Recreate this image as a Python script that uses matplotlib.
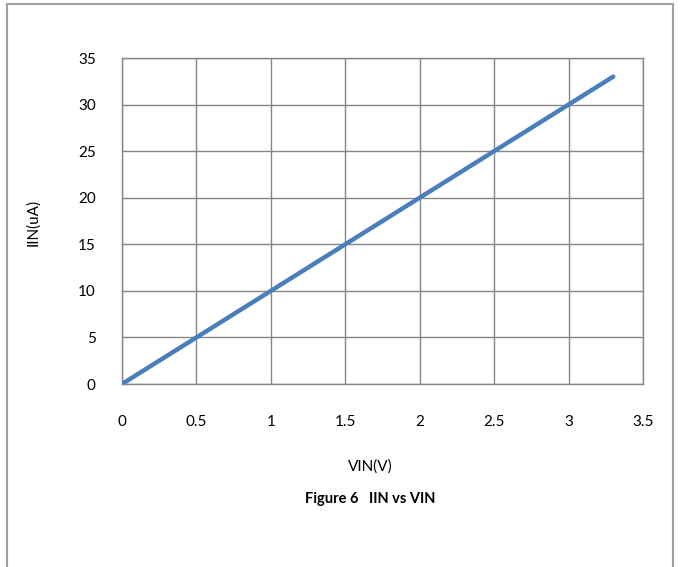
import matplotlib.pyplot as plt
from matplotlib.patches import Rectangle

vin = [0, 0.5, 1.0, 1.5, 2.0, 2.5, 3.0, 3.3]
iin = [0, 5, 10, 15, 20, 25, 30, 33]
xticks = [0, 0.5, 1, 1.5, 2, 2.5, 3, 3.5]
xticklabels = ['0', '0.5', '1', '1.5', '2', '2.5', '3', '3.5']
yticks = [0, 5, 10, 15, 20, 25, 30, 35]

plt.rcParams['font.family'] = ['Lato', 'DejaVu Sans']

fig = plt.figure(figsize=(6.8, 5.67), dpi=100)
ax = fig.add_axes([122 / 680, 1 - 384 / 567, 521 / 680, 326 / 567])

# outer frame like the document border
fig.patches.append(Rectangle((7 / 680, -0.05), 666 / 680, 1.05 - 4 / 567,
                             transform=fig.transFigure, fill=False,
                             edgecolor='#a0a0a0', linewidth=1.5))

ax.plot(vin, iin, color='#4a7ebb', linewidth=3.2, solid_capstyle='round', zorder=3)

ax.set_xlim(0, 3.5)
ax.set_ylim(0, 35)
ax.set_xticks(xticks)
ax.set_xticklabels(xticklabels)
ax.set_yticks(yticks)
ax.grid(True, color='#868686', linewidth=1.0)
for s in ax.spines.values():
    s.set_color('#868686')
    s.set_linewidth(1.0)
ax.tick_params(axis='both', length=0, labelsize=11, colors='#000000')
ax.tick_params(axis='x', pad=22)
ax.tick_params(axis='y', pad=19)

fig.text(370 / 680, 1 - 467 / 567, 'VIN(V)', ha='center', va='center', fontsize=11)
fig.text(33 / 680, 1 - 222 / 567, 'IIN(uA)', ha='center', va='center', rotation=90, fontsize=11)
fig.text(370 / 680, 1 - 499 / 567, 'Figure 6   IIN vs VIN', ha='center', va='center',
         fontsize=10.5, fontweight='bold')

fig.savefig('out.png', dpi=100)
